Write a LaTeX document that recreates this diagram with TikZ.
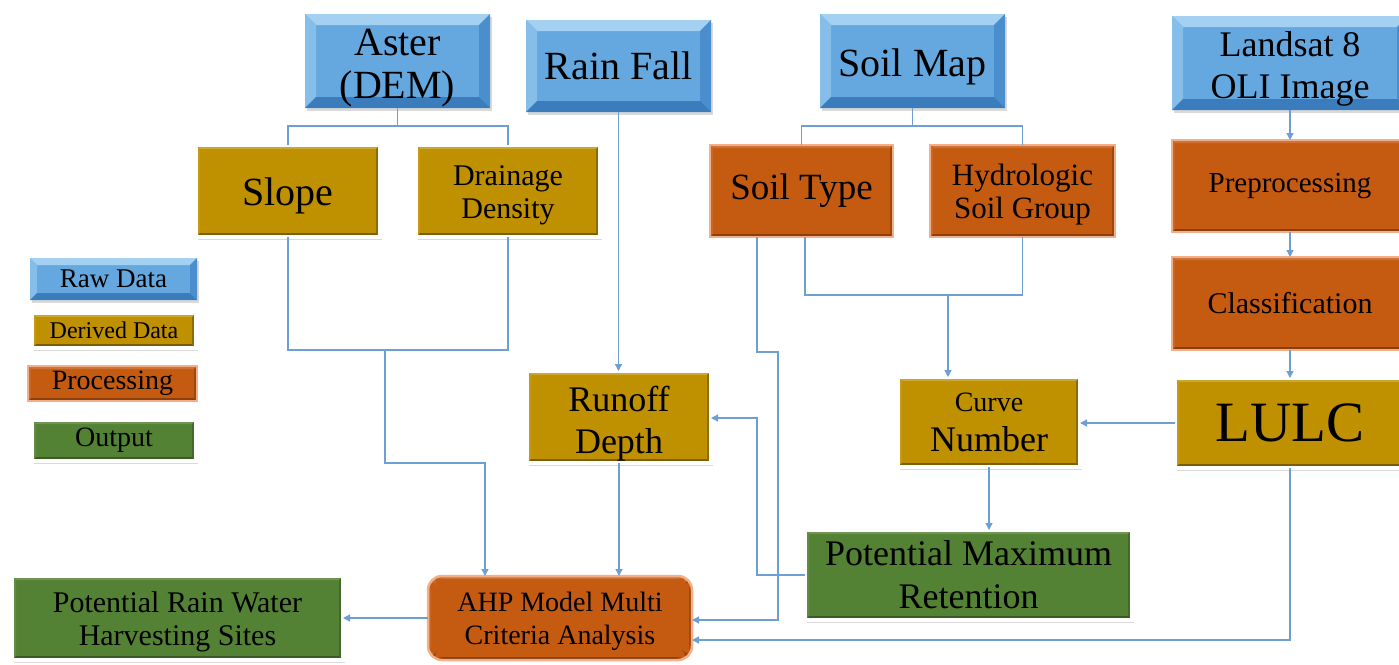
\documentclass[tikz,border=0pt]{standalone}
\usepackage{fontspec}
\setmainfont{Liberation Serif}
\usetikzlibrary{arrows.meta,shadows}
\definecolor{rawC}{HTML}{64A8DF}
\definecolor{rawT}{HTML}{A4D0F2}
\definecolor{rawL}{HTML}{86BEEA}
\definecolor{rawR}{HTML}{4B8ECD}
\definecolor{rawB}{HTML}{3A7CBC}
\definecolor{goldC}{HTML}{BF9000}
\definecolor{orC}{HTML}{C55A11}
\definecolor{orG}{HTML}{F2B08A}
\definecolor{grC}{HTML}{548235}
\definecolor{lnC}{HTML}{6E9FD3}
\tikzset{
  bevel/.style n args={5}{path picture={
    \fill[#1] (path picture bounding box.north west) -- (path picture bounding box.north east) -- ([xshift=-#5,yshift=-#5]path picture bounding box.north east) -- ([xshift=#5,yshift=-#5]path picture bounding box.north west) -- cycle;
    \fill[#2] (path picture bounding box.north west) -- ([xshift=#5,yshift=-#5]path picture bounding box.north west) -- ([xshift=#5,yshift=#5]path picture bounding box.south west) -- (path picture bounding box.south west) -- cycle;
    \fill[#3] (path picture bounding box.north east) -- ([xshift=-#5,yshift=-#5]path picture bounding box.north east) -- ([xshift=-#5,yshift=#5]path picture bounding box.south east) -- (path picture bounding box.south east) -- cycle;
    \fill[#4] (path picture bounding box.south west) -- ([xshift=#5,yshift=#5]path picture bounding box.south west) -- ([xshift=-#5,yshift=#5]path picture bounding box.south east) -- (path picture bounding box.south east) -- cycle;
  }},
  box/.style={rectangle, inner sep=0pt, outer sep=0pt, align=center, text=black},
  shad/.style={drop shadow={shadow xshift=2pt,shadow yshift=-3pt,opacity=0.3}},
  rawbox/.style={box, fill=rawC, bevel={rawT}{rawL}{rawR}{rawB}{#1}, shad},
  rawbox/.default=11pt,
  derbox/.style={box, fill=goldC, draw=white, line width=3.5pt,
    bevel={goldC!80!white}{goldC!92!white}{goldC!75!black}{goldC!65!black}{4pt}, shad},
  procbox/.style={box, fill=orC, draw=orG, line width=2.5pt,
    bevel={orC!85!white}{orC!92!white}{orC!80!black}{orC!70!black}{3pt}},
  outbox/.style={box, fill=grC, draw=white, line width=3.5pt,
    bevel={grC!85!white}{grC!92!white}{grC!80!black}{grC!70!black}{4pt}, shad},
  ln/.style={draw=lnC, line width=1.3pt},
  arr/.style={ln, -{Triangle[length=7pt,width=7pt]}},
}
\newcommand{\fs}[2]{\fontsize{#1}{#2}\selectfont}
\newcommand{\dn}[1]{\rule{0pt}{\dimexpr0.72em+#1\relax}}
\begin{document}
\begin{tikzpicture}[x=1pt,y=-1pt]
\useasboundingbox (0,0) rectangle (1399,664);
% raw data
\node[rawbox, minimum width=185pt, minimum height=94pt, font=\fs{40}{43}] (aster) at (397.5,61) {\dn{12pt}Aster\\(DEM)};
\node[rawbox, minimum width=185pt, minimum height=92pt, font=\fs{40}{44}] (rain) at (618.5,66) {Rain Fall};
\node[rawbox, minimum width=185pt, minimum height=94pt, font=\fs{40}{44}] (soilmap) at (912.5,61) {\dn{10pt}Soil Map};
\node[rawbox, minimum width=236pt, minimum height=94pt, font=\fs{36}{42}] (landsat) at (1290,63) {\dn{10pt}Landsat 8\\OLI Image};
% second row
\node[derbox, minimum width=184pt, minimum height=92pt, font=\fs{40}{44}] (slope) at (288,191) {\dn{8pt}Slope};
\node[derbox, minimum width=184pt, minimum height=92pt, font=\fs{30}{33}] (drain) at (508,191) {\dn{6pt}Drainage\\Density};
\node[procbox, minimum width=183pt, minimum height=92pt, font=\fs{37}{40}] (soiltype) at (801.5,191) {Soil Type};
\node[procbox, minimum width=185pt, minimum height=92pt, font=\fs{31}{33}] (hydro) at (1022.5,191) {\dn{6pt}Hydrologic\\Soil Group};
\node[procbox, minimum width=236pt, minimum height=92pt, font=\fs{29}{33}] (prep) at (1290,186) {Preprocessing};
\node[procbox, minimum width=236pt, minimum height=93pt, font=\fs{30}{33}] (classif) at (1290,303.5) {Classification};
\node[derbox, minimum width=230pt, minimum height=90pt, font=\fs{57}{60}] (lulc) at (1290,423) {LULC};
% middle
\node[derbox, minimum width=184pt, minimum height=92pt, font=\fs{36}{42}] (runoff) at (619,417) {\dn{12pt}Runoff\\Depth};
\node[derbox, minimum width=182pt, minimum height=90pt, font=\fs{36}{40}] (curve) at (989,422) {{\fs{28}{40}Curve}\\Number};
\node[outbox, minimum width=327pt, minimum height=90pt, font=\fs{36}{43}] (pmr) at (968.5,575) {Potential Maximum\\Retention};
\node[procbox, rounded corners=14pt, minimum width=264pt, minimum height=84pt, font=\fs{28}{33}] (ahp) at (560,618) {\dn{6pt}AHP Model Multi\\Criteria Analysis};
\node[outbox, minimum width=331pt, minimum height=84pt, font=\fs{30}{33}] (prwh) at (177.5,618) {\dn{6pt}Potential Rain Water\\Harvesting Sites};
% legend
\node[rawbox=7pt, minimum width=167pt, minimum height=42pt, font=\fs{27}{30}] (lraw) at (113.5,279) {Raw Data};
\node[derbox, minimum width=164pt, minimum height=35pt, font=\fs{24}{26}] (lder) at (114,330.5) {Derived Data};
\node[procbox, minimum width=169pt, minimum height=35pt, font=\fs{28}{30}] (lproc) at (112.5,383.5) {Processing};
\node[outbox, minimum width=164pt, minimum height=41pt, font=\fs{28}{30}] (lout) at (114,440.5) {Output};
% coordinates
\coordinate (sd) at (385,350);
\coordinate (j1) at (485,463);
\coordinate (stA) at (757,352);
\coordinate (stB) at (778,620);
\coordinate (rp) at (757,418);
\coordinate (st2) at (805,295);
\coordinate (sh) at (948,295);
\coordinate (lb) at (1290,640);
% connectors
\draw[ln] (aster.south) -- ++(0,18) -| (slope.north);
\draw[ln] (aster.south) -- ++(0,18) -| (drain.north);
\draw[ln] (soilmap.south) -- ++(0,18) -| (soiltype.north);
\draw[ln] (soilmap.south) -- ++(0,18) -| (hydro.north);
\draw[ln] (slope.south) |- (sd) -| (drain.south);
\draw[arr] (sd) |- (j1) -- (j1 |- ahp.north);
\draw[arr] (rain.south) -- (rain.south |- runoff.north);
\draw[arr] (runoff.south) -- (runoff.south |- ahp.north);
\draw[arr] (stA |- soiltype.south) -- (stA) -| (stB) -- (stB -| ahp.east);
\draw[arr] (pmr.west) -| (rp) -- (rp -| runoff.east);
\draw[ln] (st2 |- soiltype.south) -- (st2) -| (hydro.south);
\draw[arr] (sh) -- (sh |- curve.north);
\draw[arr] (curve.south) -- (curve.south |- pmr.north);
\draw[arr] (lulc.west) -- (lulc.west -| curve.east);
\draw[arr] (lulc.south) -- (lb) -- (lb -| ahp.east);
\draw[arr] (landsat.south) -- (prep.north);
\draw[arr] (prep.south) -- (classif.north);
\draw[arr] (classif.south) -- (lulc.north);
\draw[arr] (ahp.west) -- (prwh.east);
\end{tikzpicture}
\end{document}
